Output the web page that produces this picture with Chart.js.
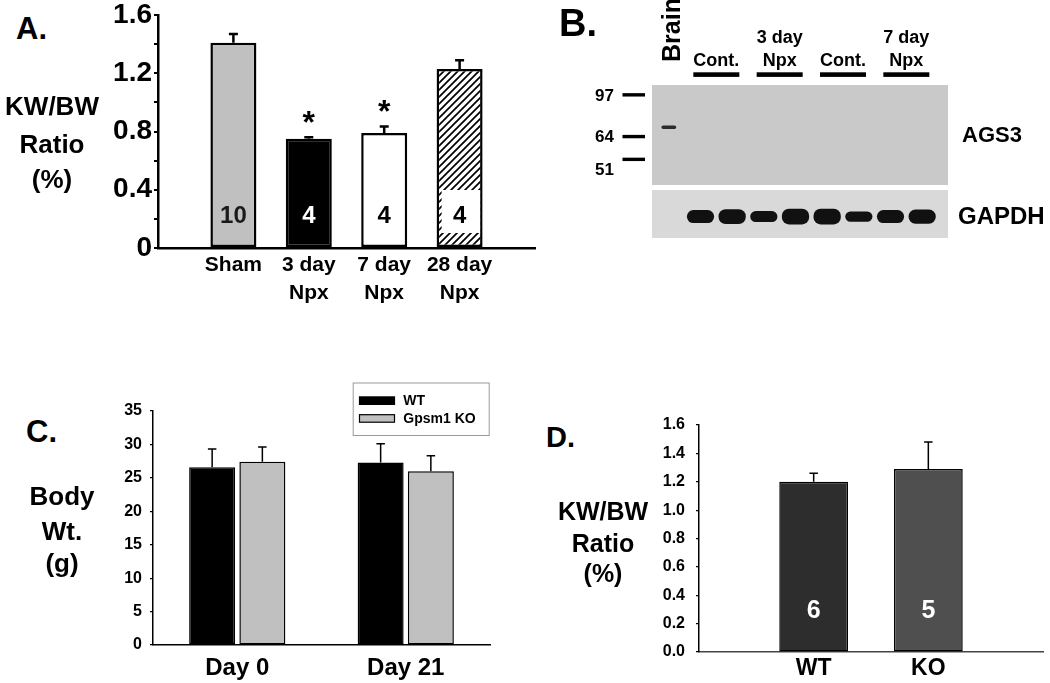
<!DOCTYPE html>
<html><head><meta charset="utf-8">
<script src="https://cdn.jsdelivr.net/npm/chart.js@4.4.1/dist/chart.umd.min.js"></script>
<style>
html,body{margin:0;padding:0;background:#fff;}
body{width:1050px;height:683px;position:relative;overflow:hidden;font-family:"Liberation Sans",Arial,sans-serif;}
canvas{position:absolute;}
.t{position:absolute;font-weight:bold;line-height:0;white-space:pre;color:#000;}
</style></head><body>
<canvas id="cA" width="490" height="320" style="left:60px;top:0px"></canvas>
<canvas id="cB1" width="470" height="190" style="left:580px;top:0px"></canvas>
<canvas id="cB2" width="470" height="60" style="left:580px;top:186px"></canvas>
<canvas id="cC" width="410" height="313" style="left:90px;top:370px"></canvas>
<canvas id="cD" width="440" height="283" style="left:610px;top:400px"></canvas>
<script>
// ---------- Panel A: KW/BW ratio after nephrectomy ----------
const aCategories = ['', 'Sham', ['3 day', 'Npx'], ['7 day', 'Npx'], ['28 day', 'Npx'], ''];
const aValues = [null, 1.41, 0.75, 0.79, 1.23, null];
const aErrors = [null, 0.06, 0.01, 0.045, 0.06, null];
const aCounts = [null, '10', '4', '4', '4', null];
const aSignificant = [false, false, true, true, false, false];
const aTickLabels = ['0', '0.4', '0.8', '1.2', '1.6'];
const aYTitle = ['KW/BW', 'Ratio', '(%)'];

// ---------- Panel B: western blot ----------
const bLanes = ['Brain', 'Cont.', 'Cont.', '3 day Npx', '3 day Npx', 'Cont.', 'Cont.', '7 day Npx', '7 day Npx'];
const bGroupLabels = [['Cont.'], ['3 day', 'Npx'], ['Cont.'], ['7 day', 'Npx']];
const bGroupLanes = [[1, 2], [3, 4], [5, 6], [7, 8]];
const bMarkers = [97, 64, 51];              // kDa
const bAgs3Bands = [[69, 71.5], null, null, null, null, null, null, null, null]; // kDa extent
const bGapdhDensity = [null, 1.0, 1.15, 0.85, 1.2, 1.2, 0.8, 1.0, 1.1];
const bBlotLabels = ['AGS3', 'GAPDH'];

// ---------- Panel C: body weight ----------
const cCategories = ['Day 0', 'Day 21'];
const cSeries = ['WT', 'Gpsm1 KO'];
const cWT = [26.6, 27.3];
const cWTErr = [2.7, 2.8];
const cKO = [27.4, 26.0];
const cKOErr = [2.2, 2.3];
const cYTitle = ['Body', 'Wt.', '(g)'];

// ---------- Panel D: KW/BW ratio WT vs KO ----------
const dCategories = ['', 'WT', 'KO', ''];
const dValues = [null, 1.20, 1.29, null];
const dErrors = [null, 0.06, 0.19, null];
const dCounts = [null, '6', '5', null];
const dYTitle = ['KW/BW', 'Ratio', '(%)'];

const FONT = "'Liberation Sans', Arial, Helvetica, sans-serif";
Chart.defaults.font.family = FONT;
Chart.defaults.font.weight = 'bold';
Chart.defaults.color = '#000';
Chart.defaults.animation = false;
Chart.defaults.responsive = false;
Chart.defaults.plugins.legend.display = false;
Chart.defaults.plugins.tooltip.enabled = false;

function txt(s, x, base, size, align) {
  const d = document.createElement('div');
  d.className = 't'; d.textContent = s;
  d.style.fontSize = size + 'px';
  d.style.top = (base - 0.3465 * size) + 'px';
  d.style.left = x + 'px';
  if (align === 'center') d.style.transform = 'translateX(-50%)';
  document.body.appendChild(d);
}
function fixY(w) { return s => { s.width = w; s.paddingTop = 0; s.paddingBottom = 0; s.paddingLeft = 0; s.paddingRight = 0; }; }
function fixX(h) { return s => { s.height = h; s.paddingTop = 0; s.paddingBottom = 0; s.paddingLeft = 0; s.paddingRight = 0; }; }

// panel letters and y titles
txt('A.', 16, 40, 31); txt('B.', 559, 36.5, 38); txt('C.', 26, 443, 31); txt('D.', 546, 447, 29);
[115, 153, 188].forEach((b, i) => txt(aYTitle[i], 52, b, 26, 'center'));
[505, 540, 572].forEach((b, i) => txt(cYTitle[i], 62, b, 26, 'center'));
[520, 552, 582].forEach((b, i) => txt(dYTitle[i], 603, b, 25, 'center'));

// error bars, n-counts and significance marks
const barExtras = {
  id: 'barExtras',
  afterDatasetsDraw(chart, args, o) {
    const ctx = chart.ctx, ys = chart.scales.y;
    const base = ys.getPixelForValue(0);
    chart.data.datasets.forEach((ds, di) => {
      const meta = chart.getDatasetMeta(di);
      meta.data.forEach((bar, i) => {
        const v = ds.data[i];
        if (v == null) return;
        let top = bar.y;
        ctx.save();
        if (ds.errors && ds.errors[i] != null) {
          const ey = ys.getPixelForValue(v + ds.errors[i]);
          ctx.strokeStyle = '#000'; ctx.lineWidth = o.errWidth;
          ctx.beginPath();
          ctx.moveTo(bar.x, bar.y); ctx.lineTo(bar.x, ey);
          ctx.moveTo(bar.x - o.capWidth / 2, ey); ctx.lineTo(bar.x + o.capWidth / 2, ey);
          ctx.stroke();
          top = ey;
        }
        if (ds.significant && ds.significant[i]) {
          ctx.font = `bold ${o.starSize}px ${FONT}`;
          ctx.textAlign = 'center'; ctx.textBaseline = 'alphabetic'; ctx.fillStyle = '#000';
          ctx.fillText('*', bar.x, top - o.starGap);
        }
        if (ds.counts && ds.counts[i] != null) {
          const by = base - o.countOffset;
          const bx = o.countBox;
          if (bx && bx.index === i) {
            ctx.fillStyle = '#fff';
            const l = bar.x - bar.width / 2 + bx.left, r = bar.x + bar.width / 2 - bx.right;
            ctx.fillRect(l, by - bx.top, r - l, bx.top + bx.bottom);
          }
          ctx.font = `bold ${o.countSize}px ${FONT}`;
          ctx.textAlign = 'center'; ctx.textBaseline = 'alphabetic';
          ctx.fillStyle = o.countColors[i];
          ctx.fillText(ds.counts[i], bar.x, by);
        }
        ctx.restore();
      });
    });
  }
};

// hatch pattern for 28 day bar
function hatchPattern() {
  const c = document.createElement('canvas'); c.width = 7; c.height = 7;
  const g = c.getContext('2d');
  g.fillStyle = '#fff'; g.fillRect(0, 0, 7, 7);
  g.strokeStyle = '#000'; g.lineWidth = 1.7;
  g.beginPath();
  g.moveTo(-2, 9); g.lineTo(9, -2);
  g.moveTo(-2, 2); g.lineTo(2, -2);
  g.moveTo(5, 9); g.lineTo(9, 5);
  g.stroke();
  return g.createPattern(c, 'repeat');
}

// ---------- Chart A ----------
new Chart(document.getElementById('cA'), {
  type: 'bar',
  data: {
    labels: aCategories,
    datasets: [{
      data: aValues, errors: aErrors, counts: aCounts, significant: aSignificant,
      backgroundColor: ['#fff', '#c0c0c0', '#000', '#fff', hatchPattern(), '#fff'],
      borderColor: '#000', borderWidth: 2.5, borderSkipped: false,
      barPercentage: 0.61, categoryPercentage: 1
    }]
  },
  options: {
    devicePixelRatio: 1,
    layout: { padding: { left: 0, top: 15, right: 15, bottom: 0 } },
    scales: {
      x: {
        offset: false,
        grid: { display: false, drawTicks: false },
        border: { display: true, color: '#000', width: 2.5 },
        ticks: { autoSkip: false, maxRotation: 0, padding: 4, font: { size: 21, weight: 'bold', lineHeight: 1.3 }, color: '#000' },
        afterFit: fixX(72)
      },
      y: {
        min: 0, max: 1.6,
        grid: { display: true, drawOnChartArea: false, drawTicks: true, tickLength: 4, color: '#000', lineWidth: 2 },
        border: { display: true, color: '#000', width: 2.5 },
        ticks: {
          stepSize: 0.2, autoSkip: false, padding: 2, font: { size: 28, weight: 'bold' }, color: '#000',
          callback: v => { const r = Math.round(v * 10) / 10; const s = r === 0 ? '0' : r.toFixed(1); return aTickLabels.includes(s) ? s : ''; }
        },
        afterFit: fixY(98)
      }
    },
    plugins: {
      barExtras: {
        errWidth: 2.5, capWidth: 9, starSize: 32, starGap: 4,
        countSize: 24, countOffset: 25,
        countColors: [null, '#1a1a1a', '#fff', '#000', '#000', null],
        countBox: { index: 4, left: 5, right: 2.5, top: 33, bottom: 10 }
      }
    }
  },
  plugins: [barExtras]
});

// ---------- Panel B blot ----------
const blot = {
  id: 'blot',
  beforeDatasetsDraw(chart, args, o) {
    const { ctx, chartArea: a } = chart;
    ctx.save();
    ctx.fillStyle = o.bg;
    ctx.fillRect(a.left - o.padL, a.top, a.right - a.left + o.padL + o.padR, a.bottom - a.top);
    ctx.restore();
  },
  afterDatasetsDraw(chart, args, o) {
    const { ctx, chartArea: a } = chart;
    const xs = chart.scales.x, ys = chart.scales.y;
    ctx.save();
    ctx.fillStyle = '#000';
    ctx.font = `bold ${o.labelSize}px ${FONT}`;
    ctx.textAlign = 'left'; ctx.textBaseline = 'alphabetic';
    ctx.fillText(o.label, a.right + o.labelDx, a.top + o.labelDy);
    if (o.markers) {
      ctx.font = `bold 17px ${FONT}`;
      ctx.textAlign = 'right'; ctx.textBaseline = 'middle';
      o.markers.forEach(m => {
        const y = ys.getPixelForValue(m);
        ctx.fillRect(a.left - 30.5, y - 1.7, 22.5, 3.4);
        ctx.fillText(String(m), a.left - 39, y + 1 + (o.markerShift[m] || 0));
      });
    }
    if (o.groups) {
      ctx.font = `bold 18px ${FONT}`;
      ctx.textAlign = 'center'; ctx.textBaseline = 'alphabetic';
      o.groups.forEach((lanes, gi) => {
        const cx = (xs.getPixelForValue(lanes[0]) + xs.getPixelForValue(lanes[1])) / 2;
        ctx.fillRect(cx - 23, 72.3, 46, 4.6);
        const lines = o.groupLabels[gi];
        lines.forEach((s, li) => ctx.fillText(s, cx, 66 - (lines.length - 1 - li) * 23));
      });
      // rotated first lane label
      ctx.save();
      ctx.translate(xs.getPixelForValue(0) + 11, 62);
      ctx.rotate(-Math.PI / 2);
      ctx.font = `bold 25px ${FONT}`;
      ctx.textAlign = 'left'; ctx.textBaseline = 'alphabetic';
      ctx.fillText(chart.data.labels[0], 0, 0);
      ctx.restore();
    }
    ctx.restore();
  }
};

new Chart(document.getElementById('cB1'), {
  type: 'bar',
  data: {
    labels: bLanes,
    datasets: [{
      data: bAgs3Bands, backgroundColor: '#2b2b2b', borderWidth: 0,
      borderRadius: 2, borderSkipped: false, barPercentage: 0.47, categoryPercentage: 1
    }]
  },
  options: {
    devicePixelRatio: 1,
    layout: { padding: { left: 73, right: 112, top: 85, bottom: 5 } },
    scales: {
      x: { display: false },
      y: { type: 'logarithmic', min: 39.5, max: 107, display: false }
    },
    plugins: {
      blot: {
        bg: '#c9c9c9', padL: 1, padR: 10, label: bBlotLabels[0], labelSize: 22, labelDx: 24, labelDy: 56.7,
        markers: bMarkers, markerShift: { 51: 10 },
        groups: bGroupLanes, groupLabels: bGroupLabels
      }
    }
  },
  plugins: [blot]
});

new Chart(document.getElementById('cB2'), {
  type: 'bar',
  data: {
    labels: bLanes,
    datasets: [{
      data: bGapdhDensity.map(v => v == null ? null : [-v, v]),
      backgroundColor: '#111', borderWidth: 0,
      borderRadius: 7, borderSkipped: false, barPercentage: 0.86, categoryPercentage: 1
    }]
  },
  options: {
    devicePixelRatio: 1,
    layout: { padding: { left: 73, right: 112, top: 4, bottom: 8 } },
    scales: {
      x: { display: false },
      y: { min: -3.3, max: 4.1, display: false }
    },
    plugins: {
      blot: { bg: '#d9d9d9', padL: 1, padR: 10, label: bBlotLabels[1], labelSize: 24, labelDx: 20, labelDy: 33.5 }
    }
  },
  plugins: [blot]
});

// ---------- Chart C ----------
const boxLegend = {
  id: 'boxLegend',
  afterDraw(chart, args, o) {
    const { ctx, chartArea: a } = chart;
    const left = a.right - 137.3, top = a.top - 28.5;
    ctx.save();
    ctx.strokeStyle = '#9a9a9a'; ctx.lineWidth = 1;
    ctx.strokeRect(left + 0.5, top + 0.5, 136, 52.5);
    ctx.font = `bold 14px ${FONT}`;
    ctx.textAlign = 'left'; ctx.textBaseline = 'alphabetic';
    chart.data.datasets.forEach((ds, i) => {
      const y = top + 14.4 + i * 17.8;
      ctx.fillStyle = ds.backgroundColor;
      ctx.fillRect(left + 6.8, y, 35, 7.5);
      ctx.strokeStyle = '#000'; ctx.lineWidth = 1.2;
      ctx.strokeRect(left + 6.8, y, 35, 7.5);
      ctx.fillStyle = '#000';
      ctx.fillText(ds.label, left + 50.6, y + 8.5);
    });
    ctx.restore();
  }
};

new Chart(document.getElementById('cC'), {
  type: 'bar',
  data: {
    labels: cCategories,
    datasets: [
      { label: cSeries[0], data: cWT, errors: cWTErr, backgroundColor: '#000', borderColor: '#000', borderWidth: 1.5, borderSkipped: false },
      { label: cSeries[1], data: cKO, errors: cKOErr, backgroundColor: '#c0c0c0', borderColor: '#000', borderWidth: 1.5, borderSkipped: false }
    ]
  },
  options: {
    devicePixelRatio: 1,
    datasets: { bar: { categoryPercentage: 0.596, barPercentage: 0.916 } },
    layout: { padding: { left: 0, top: 41, right: 10, bottom: 0 } },
    scales: {
      x: {
        grid: { display: false, drawTicks: false },
        border: { display: true, color: '#000', width: 1.5 },
        ticks: { padding: 9, font: { size: 24, weight: 'bold' }, color: '#000' },
        afterFit: fixX(38)
      },
      y: {
        min: 0, max: 35,
        grid: { display: true, drawOnChartArea: false, drawTicks: true, tickLength: 3, color: '#000', lineWidth: 1.2 },
        border: { display: true, color: '#000', width: 1.5 },
        ticks: { stepSize: 5, autoSkip: false, padding: 8, font: { size: 16, weight: 'bold' }, color: '#000' },
        afterFit: fixY(63)
      }
    },
    plugins: { barExtras: { errWidth: 1.5, capWidth: 8.5 } }
  },
  plugins: [barExtras, boxLegend]
});

// ---------- Chart D ----------
new Chart(document.getElementById('cD'), {
  type: 'bar',
  data: {
    labels: dCategories,
    datasets: [{
      data: dValues, errors: dErrors, counts: dCounts,
      backgroundColor: ['#fff', '#2d2d2d', '#4f4f4f', '#fff'],
      borderColor: '#000', borderWidth: 1.5, borderSkipped: false,
      barPercentage: 0.6, categoryPercentage: 1
    }]
  },
  options: {
    devicePixelRatio: 1,
    layout: { padding: { left: 0, top: 25, right: 7, bottom: 0 } },
    scales: {
      x: {
        offset: false,
        grid: { display: false, drawTicks: false },
        border: { display: true, color: '#444', width: 1.5 },
        ticks: { autoSkip: false, padding: 3, font: { size: 23, weight: 'bold' }, color: '#000' },
        afterFit: fixX(31)
      },
      y: {
        min: 0, max: 1.6,
        grid: { display: true, drawOnChartArea: false, drawTicks: true, tickLength: 3, color: '#000', lineWidth: 1.2 },
        border: { display: true, color: '#000', width: 1.5 },
        ticks: { stepSize: 0.2, autoSkip: false, padding: 11, font: { size: 16, weight: 'bold' }, color: '#000',
          callback: v => (Math.round(v * 10) / 10).toFixed(1) },
        afterFit: fixY(89)
      }
    },
    plugins: {
      barExtras: { errWidth: 1.5, capWidth: 8.5, countSize: 25, countOffset: 33.7, countColors: [null, '#fff', '#fff', null] }
    }
  },
  plugins: [barExtras]
});
</script>
</body></html>
